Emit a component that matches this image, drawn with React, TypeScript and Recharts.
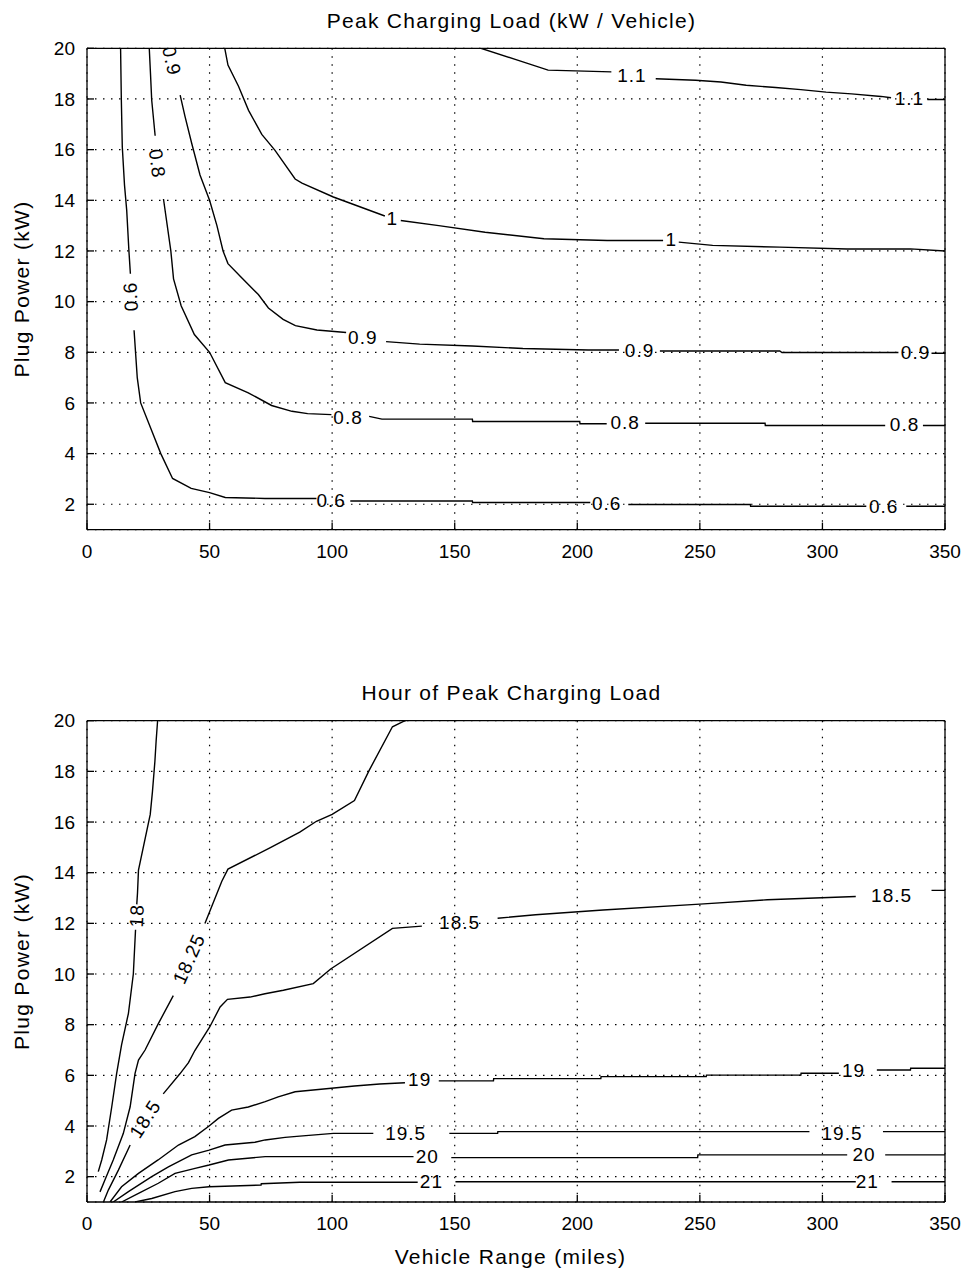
import { ComposedChart, Line, Scatter, XAxis, YAxis, CartesianGrid } from "recharts";

const FONT = "'Liberation Sans', Arial, Helvetica, sans-serif";

// axis ticks
const rangeTicks = [0, 50, 100, 150, 200, 250, 300, 350];
const powerTicks = [2, 4, 6, 8, 10, 12, 14, 16, 18, 20];

type Pt = [number, number | null];

// --- Peak Charging Load (kW / Vehicle) contours: [range, plug power], null = label gap
const load06: Pt[] = [
  [13.7, 20], [14.0, 18], [14.4, 16.1], [15.3, 14.6], [16.2, 13.6], [17.1, 12], [17.7, 11.1],
  [17.8, null],
  [19.2, 8.87], [19.8, 8], [20.5, 7], [21.9, 6], [26, 5], [30.1, 4], [34.9, 3.02], [42.5, 2.63],
  [50, 2.46], [56.4, 2.27], [72.6, 2.23], [93.6, 2.23],
  [99.6, null],
  [107.4, 2.13], [157.2, 2.13], [157.3, 2.07], [205.3, 2.07],
  [212, null],
  [220.8, 1.99], [270.6, 1.99], [270.7, 1.92], [317.9, 1.92],
  [325, null],
  [334.2, 1.92], [350, 1.92],
];
const load08: Pt[] = [
  [25.4, 20], [25.9, 19], [26.4, 17.95], [27.8, 16.55],
  [28.6, null],
  [31.2, 14.05], [34.2, 12], [35.3, 10.9], [38.4, 9.84], [43.8, 8.7], [50, 8], [56.4, 6.8],
  [65.8, 6.4], [75.3, 5.9], [83.6, 5.67], [90, 5.58], [99.7, 5.54],
  [106.5, null],
  [115.1, 5.47], [120.3, 5.36], [157.2, 5.36], [157.3, 5.27], [201, 5.27], [201.1, 5.18], [212, 5.18],
  [219.5, null],
  [227.7, 5.2], [276.6, 5.2], [276.7, 5.11], [325.6, 5.11],
  [333.5, null],
  [341, 5.11], [350, 5.11],
];
const load09: Pt[] = [
  [38, 18.15], [40, 17.3], [42.7, 16.25], [46.1, 15], [50, 14], [53, 13], [55.5, 12], [57.5, 11.5],
  [63, 10.95], [69.9, 10.28], [74, 9.75], [80, 9.3], [85, 9.05], [93.8, 8.88], [105.7, 8.78],
  [112.5, null],
  [122, 8.42], [135.7, 8.32], [157.2, 8.25], [177.8, 8.15], [204.5, 8.09], [217, 8.09],
  [225.4, null],
  [233.7, 8.05], [282.6, 8.05], [283.5, 7.99], [331, 7.99],
  [338, null],
  [344.5, 7.96], [350, 7.96],
];
const load10: Pt[] = [
  [56.2, 20], [57.5, 19.34], [61.8, 18.5], [65.9, 17.55], [71.3, 16.6], [76.7, 15.97], [84.9, 14.84],
  [87.7, 14.68], [100.5, 14.13], [121.5, 13.38],
  [124.5, null],
  [128, 13.2], [143.5, 13.0], [162.4, 12.74], [186.4, 12.48], [212.2, 12.41], [235, 12.41],
  [238.3, null],
  [241.4, 12.35], [255.2, 12.22], [282.6, 12.15], [310.1, 12.08], [335.9, 12.08], [350, 12.0],
];
const load11: Pt[] = [
  [160.7, 20], [175, 19.55], [188.1, 19.14], [213.9, 19.07],
  [222.3, null],
  [232, 18.8], [248.3, 18.74], [258.6, 18.67], [268.9, 18.54], [280.9, 18.45], [291.2, 18.37],
  [301.5, 18.27], [311.9, 18.2], [323.9, 18.1], [328, 18.05],
  [335.5, null],
  [342.8, 17.98], [350, 17.98],
];
const loadLabels = [
  { x: 17.8, y: 10.2, t: "0.6", a: -93 },
  { x: 28.6, y: 15.45, t: "0.8", a: 82 },
  { x: 34.5, y: 19.5, t: "0.9", a: 77 },
  { x: 99.6, y: 2.16, t: "0.6", a: 0 },
  { x: 212, y: 2.03, t: "0.6", a: 0 },
  { x: 325, y: 1.93, t: "0.6", a: 0 },
  { x: 106.5, y: 5.41, t: "0.8", a: 0 },
  { x: 219.5, y: 5.22, t: "0.8", a: 0 },
  { x: 333.5, y: 5.16, t: "0.8", a: 0 },
  { x: 112.5, y: 8.59, t: "0.9", a: 0 },
  { x: 225.4, y: 8.06, t: "0.9", a: 0 },
  { x: 338, y: 7.99, t: "0.9", a: 0 },
  { x: 124.5, y: 13.27, t: "1", a: 0 },
  { x: 238.3, y: 12.45, t: "1", a: 0 },
  { x: 222.3, y: 18.92, t: "1.1", a: 0 },
  { x: 335.5, y: 18.02, t: "1.1", a: 0 },
];

// --- Hour of Peak Charging Load contours
const hour18: Pt[] = [
  [28.8, 20], [28.2, 19.2], [27.7, 18.4], [26.7, 17.2], [25.8, 16.3], [21, 14.1], [20.6, 13.2], [20.3, 12.75],
  [20.3, null],
  [19.8, 11.75], [18.9, 10.0], [16.9, 8.45], [14.1, 7.2], [12.1, 6.08], [10.1, 4.76], [8.0, 3.45],
  [6.0, 2.66], [4.6, 2.2],
];
const hour1825: Pt[] = [
  [130, 20], [128.9, 19.96], [124.6, 19.76], [115.1, 18.04], [109.1, 16.85], [100, 16.3], [93.6, 16.03],
  [86.8, 15.6], [75, 15.0], [57.5, 14.14], [55, 13.66], [48.1, 11.99],
  [41.6, null],
  [35.2, 9.15], [29.1, 8.04], [23.7, 7.0], [21, 6.6], [19.6, 6.08], [17.6, 4.76], [14.8, 3.7],
  [10.7, 2.66], [7.3, 1.87], [5.3, 1.4],
];
const hour185: Pt[] = [
  [6.7, 1.0], [8.7, 1.47], [12.8, 2.26], [17.6, 3.25],
  [23.7, null],
  [31.1, 5.27], [37.9, 6.06], [41.4, 6.5], [44, 6.98], [50, 7.9], [54.3, 8.7], [57.3, 9.0], [66.5, 9.09],
  [72.6, 9.22], [80.1, 9.36], [92.3, 9.62], [99.4, 10.2], [124.6, 11.8], [136.6, 11.89],
  [152, null],
  [167.5, 12.2], [183, 12.34], [210.5, 12.53], [250, 12.76], [277.5, 12.93], [313.6, 13.06],
  [328.2, null],
  [344.5, 13.3], [350, 13.3],
];
const hour19: Pt[] = [
  [9.4, 1.0], [14.1, 1.6], [21, 2.13], [29, 2.66], [37.3, 3.25], [44, 3.58], [49.8, 4.0], [53.6, 4.3],
  [59, 4.63], [65.8, 4.75], [72.7, 4.96], [78, 5.15], [84.9, 5.35], [99.7, 5.49], [109.1, 5.58],
  [119.4, 5.66], [129.7, 5.71],
  [135.7, null],
  [143.5, 5.78], [165.8, 5.78], [165.9, 5.87], [209.6, 5.87], [209.7, 5.95], [252.6, 5.95],
  [252.7, 6.01], [291.2, 6.01], [291.3, 6.08], [306.7, 6.08],
  [312.7, null],
  [322.2, 6.21], [335.9, 6.21], [336, 6.28], [350, 6.28],
];
const hour195: Pt[] = [
  [10.7, 1.0], [16.9, 1.41], [26.4, 2.0], [33.2, 2.39], [42.7, 2.86], [49.8, 3.05], [56.3, 3.25],
  [68.5, 3.36], [72.7, 3.45], [80.8, 3.55], [86.8, 3.6], [100.5, 3.71], [116.8, 3.71],
  [130, null],
  [147.8, 3.71], [167.5, 3.71], [167.6, 3.78], [294.7, 3.78],
  [308, null],
  [324.7, 3.78], [350, 3.78],
];
const hour20: Pt[] = [
  [14.1, 1.0], [21, 1.34], [29.1, 1.74], [35.9, 2.13], [44.1, 2.33], [49.8, 2.46], [57.7, 2.66],
  [72.7, 2.79], [86.8, 2.79], [133.2, 2.79],
  [138.8, null],
  [148.6, 2.75], [249.1, 2.75], [249.2, 2.86], [310.1, 2.86],
  [317, null],
  [325.6, 2.86], [350, 2.86],
];
const hour21: Pt[] = [
  [19.6, 1.0], [26.4, 1.14], [35.9, 1.41], [42.7, 1.54], [49.8, 1.6], [71, 1.67], [71.1, 1.72],
  [86.8, 1.78], [134.9, 1.78],
  [140.5, null],
  [150.3, 1.8], [313.6, 1.8],
  [318.3, null],
  [328.2, 1.8], [350, 1.8],
];
const hourLabels = [
  { x: 20.3, y: 12.3, t: "18", a: -87 },
  { x: 41.6, y: 10.6, t: "18.25", a: -66 },
  { x: 23.7, y: 4.28, t: "18.5", a: -57 },
  { x: 152, y: 12.03, t: "18.5", a: 0 },
  { x: 328.2, y: 13.1, t: "18.5", a: 0 },
  { x: 135.7, y: 5.82, t: "19", a: 0 },
  { x: 312.7, y: 6.21, t: "19", a: 0 },
  { x: 130, y: 3.71, t: "19.5", a: 0 },
  { x: 308, y: 3.71, t: "19.5", a: 0 },
  { x: 138.8, y: 2.79, t: "20", a: 0 },
  { x: 317, y: 2.86, t: "20", a: 0 },
  { x: 140.5, y: 1.8, t: "21", a: 0 },
  { x: 318.3, y: 1.8, t: "21", a: 0 },
];

const loadLines = [load06, load08, load09, load10, load11];
const hourLines = [hour18, hour1825, hour185, hour19, hour195, hour20, hour21];

const toRows = (pts: Pt[]) => pts.map(([x, y]) => ({ x, y }));

function ContourText(props: any) {
  const { cx, cy, payload } = props;
  if (cx == null || cy == null || !payload) return null;
  const a = payload.a || 0;
  return (
    <text
      x={cx}
      y={cy}
      transform={a ? `rotate(${a} ${cx} ${cy})` : undefined}
      textAnchor="middle"
      dominantBaseline="central"
      fontFamily={FONT}
      fontSize={19}
      letterSpacing={1}
      fill="#000"
    >
      {payload.t}
    </text>
  );
}

const tickStyle = { fill: "#000", fontSize: 19, fontFamily: FONT };

function ContourPanel({ lines, labels, height, margin }: any) {
  return (
    <ComposedChart width={969} height={height} margin={margin}>
      <CartesianGrid stroke="#000" strokeDasharray="1.5 6.5" strokeWidth={1.2} />
      <XAxis
        dataKey="x"
        type="number"
        domain={[0, 350]}
        ticks={rangeTicks}
        interval={0}
        allowDataOverflow
        height={30}
        stroke="#000"
        strokeWidth={1.3}
        tickSize={-7}
        tickMargin={21.5}
        tick={tickStyle}
      />
      <XAxis
        xAxisId="top"
        orientation="top"
        type="number"
        domain={[0, 350]}
        ticks={rangeTicks}
        interval={0}
        mirror
        height={10}
        stroke="#000"
        strokeWidth={1.3}
        tickSize={7}
        tick={false}
      />
      <YAxis
        type="number"
        domain={[1, 20]}
        ticks={powerTicks}
        interval={0}
        allowDataOverflow
        width={60}
        stroke="#000"
        strokeWidth={1.3}
        tickSize={-7}
        tickMargin={19}
        tick={tickStyle}
      />
      <YAxis
        yAxisId="right"
        orientation="right"
        type="number"
        domain={[1, 20]}
        ticks={powerTicks}
        interval={0}
        mirror
        width={10}
        stroke="#000"
        strokeWidth={1.3}
        tickSize={7}
        tick={false}
      />
      {lines.map((d: Pt[], i: number) => (
        <Line
          key={i}
          data={toRows(d)}
          dataKey="y"
          type="linear"
          stroke="#000"
          strokeWidth={1.4}
          dot={false}
          activeDot={false}
          connectNulls={false}
          isAnimationActive={false}
        />
      ))}
      <Scatter data={labels} dataKey="y" shape={ContourText} isAnimationActive={false} />
    </ComposedChart>
  );
}

export default function App() {
  const txt = { fontFamily: FONT, fontSize: 21, letterSpacing: 1.3, fill: "#000" } as const;
  return (
    <div style={{ position: "absolute", left: 0, top: 0, width: 969, height: 1277, background: "#fff" }}>
      <div style={{ position: "absolute", left: 0, top: 0 }}>
        <ContourPanel
          lines={loadLines}
          labels={loadLabels}
          height={580}
          margin={{ top: 48.3, right: 24, bottom: 20.4, left: 27 }}
        />
      </div>
      <div style={{ position: "absolute", left: 0, top: 600 }}>
        <ContourPanel
          lines={hourLines}
          labels={hourLabels}
          height={677}
          margin={{ top: 120.7, right: 24, bottom: 45, left: 27 }}
        />
      </div>
      <svg width={969} height={1277} style={{ position: "absolute", left: 0, top: 0, pointerEvents: "none" }}>
        <text x={511.5} y={28} textAnchor="middle" {...txt}>Peak Charging Load (kW / Vehicle)</text>
        <text x={511.5} y={700} textAnchor="middle" {...txt}>Hour of Peak Charging Load</text>
        <text transform="translate(29,289) rotate(-90)" textAnchor="middle" {...txt}>Plug Power (kW)</text>
        <text transform="translate(29,961.5) rotate(-90)" textAnchor="middle" {...txt}>Plug Power (kW)</text>
        <text x={510.5} y={1264} textAnchor="middle" {...txt}>Vehicle Range (miles)</text>
      </svg>
    </div>
  );
}
